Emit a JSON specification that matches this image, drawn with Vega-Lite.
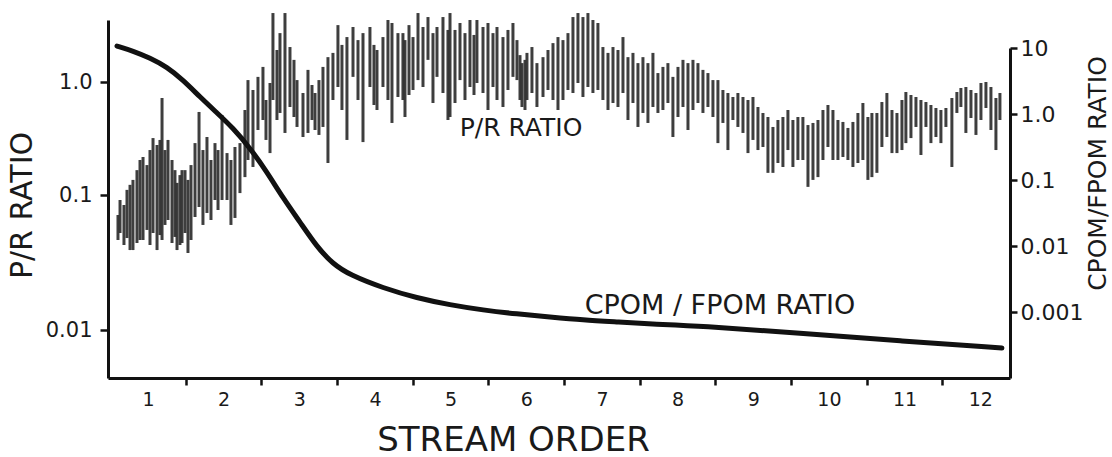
{
  "$schema": "https://vega.github.io/schema/vega-lite/v6.json",
  "width": 902,
  "height": 358,
  "autosize": "none",
  "padding": {"left": 108, "top": 20, "right": 102, "bottom": 79},
  "background": "white",
  "config": {
    "view": {"stroke": null},
    "font": "DejaVu Sans",
    "axis": {
      "grid": false,
      "domainColor": "#111111",
      "domainWidth": 3,
      "tickColor": "#111111",
      "tickWidth": 2.5,
      "labelColor": "#1a1a1a",
      "titleColor": "#1a1a1a",
      "labelFont": "DejaVu Sans",
      "titleFont": "DejaVu Sans",
      "titleFontWeight": "normal"
    }
  },
  "layer": [
    {
      "layer": [
        {
          "data": {
            "values": [
              {"order": 0.604, "hi": 0.0711, "lo": 0.0464},
              {"order": 0.631, "hi": 0.0918, "lo": 0.0523},
              {"order": 0.683, "hi": 0.0843, "lo": 0.0426},
              {"order": 0.723, "hi": 0.111, "lo": 0.048},
              {"order": 0.763, "hi": 0.123, "lo": 0.0391},
              {"order": 0.802, "hi": 0.136, "lo": 0.0391},
              {"order": 0.855, "hi": 0.166, "lo": 0.0441},
              {"order": 0.895, "hi": 0.204, "lo": 0.0464},
              {"order": 0.935, "hi": 0.217, "lo": 0.0464},
              {"order": 0.987, "hi": 0.184, "lo": 0.0551},
              {"order": 1.027, "hi": 0.25, "lo": 0.0426},
              {"order": 1.067, "hi": 0.319, "lo": 0.0523},
              {"order": 1.12, "hi": 0.277, "lo": 0.0391},
              {"order": 1.159, "hi": 0.307, "lo": 0.0505},
              {"order": 1.186, "hi": 0.722, "lo": 0.0464},
              {"order": 1.225, "hi": 0.25, "lo": 0.06},
              {"order": 1.265, "hi": 0.307, "lo": 0.0653},
              {"order": 1.318, "hi": 0.204, "lo": 0.0441},
              {"order": 1.357, "hi": 0.166, "lo": 0.0489},
              {"order": 1.384, "hi": 0.128, "lo": 0.0391},
              {"order": 1.423, "hi": 0.15, "lo": 0.0426},
              {"order": 1.45, "hi": 0.166, "lo": 0.0441},
              {"order": 1.49, "hi": 0.166, "lo": 0.0523},
              {"order": 1.529, "hi": 0.136, "lo": 0.0372},
              {"order": 1.569, "hi": 0.184, "lo": 0.0464},
              {"order": 1.622, "hi": 0.288, "lo": 0.0687},
              {"order": 1.675, "hi": 0.543, "lo": 0.0815},
              {"order": 1.727, "hi": 0.25, "lo": 0.06},
              {"order": 1.78, "hi": 0.326, "lo": 0.0736},
              {"order": 1.833, "hi": 0.204, "lo": 0.0653},
              {"order": 1.886, "hi": 0.288, "lo": 0.0918},
              {"order": 1.926, "hi": 0.25, "lo": 0.0774},
              {"order": 1.979, "hi": 0.511, "lo": 0.0918},
              {"order": 2.045, "hi": 0.235, "lo": 0.0918},
              {"order": 2.097, "hi": 0.204, "lo": 0.06},
              {"order": 2.15, "hi": 0.266, "lo": 0.0676},
              {"order": 2.216, "hi": 0.288, "lo": 0.104},
              {"order": 2.282, "hi": 0.565, "lo": 0.144},
              {"order": 2.322, "hi": 1.04, "lo": 0.204},
              {"order": 2.388, "hi": 0.85, "lo": 0.177},
              {"order": 2.454, "hi": 1.11, "lo": 0.376},
              {"order": 2.52, "hi": 1.36, "lo": 0.461},
              {"order": 2.56, "hi": 0.693, "lo": 0.307},
              {"order": 2.613, "hi": 0.98, "lo": 0.235},
              {"order": 2.652, "hi": 4.08, "lo": 0.693},
              {"order": 2.705, "hi": 1.92, "lo": 0.461},
              {"order": 2.745, "hi": 2.71, "lo": 0.532},
              {"order": 2.811, "hi": 4.08, "lo": 0.354},
              {"order": 2.877, "hi": 2.04, "lo": 0.601},
              {"order": 2.93, "hi": 1.57, "lo": 0.49},
              {"order": 2.97, "hi": 1.04, "lo": 0.4},
              {"order": 3.049, "hi": 0.799, "lo": 0.326},
              {"order": 3.115, "hi": 1.28, "lo": 0.354},
              {"order": 3.168, "hi": 0.941, "lo": 0.461},
              {"order": 3.208, "hi": 0.799, "lo": 0.376},
              {"order": 3.26, "hi": 1.04, "lo": 0.34},
              {"order": 3.313, "hi": 1.36, "lo": 0.4},
              {"order": 3.379, "hi": 1.66, "lo": 0.192},
              {"order": 3.445, "hi": 1.81, "lo": 0.693},
              {"order": 3.511, "hi": 3.19, "lo": 0.903},
              {"order": 3.564, "hi": 2.13, "lo": 0.565},
              {"order": 3.63, "hi": 2.5, "lo": 0.307},
              {"order": 3.71, "hi": 3.07, "lo": 1.11},
              {"order": 3.776, "hi": 2.35, "lo": 0.693},
              {"order": 3.842, "hi": 2.71, "lo": 0.294},
              {"order": 3.934, "hi": 3.07, "lo": 0.903},
              {"order": 3.987, "hi": 2.13, "lo": 0.626},
              {"order": 4.027, "hi": 1.92, "lo": 0.565},
              {"order": 4.106, "hi": 2.5, "lo": 0.903},
              {"order": 4.172, "hi": 3.54, "lo": 0.693},
              {"order": 4.225, "hi": 3.33, "lo": 0.434},
              {"order": 4.304, "hi": 2.71, "lo": 0.737},
              {"order": 4.37, "hi": 2.71, "lo": 0.693},
              {"order": 4.397, "hi": 2.35, "lo": 0.49},
              {"order": 4.45, "hi": 3.19, "lo": 0.767},
              {"order": 4.503, "hi": 2.5, "lo": 0.85},
              {"order": 4.569, "hi": 4.08, "lo": 1.04},
              {"order": 4.635, "hi": 3.07, "lo": 0.903},
              {"order": 4.701, "hi": 3.76, "lo": 1.57},
              {"order": 4.767, "hi": 2.71, "lo": 0.652},
              {"order": 4.82, "hi": 3.07, "lo": 1.11},
              {"order": 4.899, "hi": 3.76, "lo": 0.799},
              {"order": 4.965, "hi": 2.89, "lo": 0.461},
              {"order": 4.992, "hi": 4.08, "lo": 0.49},
              {"order": 5.058, "hi": 2.89, "lo": 0.652},
              {"order": 5.124, "hi": 3.33, "lo": 1.04},
              {"order": 5.19, "hi": 2.71, "lo": 0.693},
              {"order": 5.256, "hi": 3.54, "lo": 0.903},
              {"order": 5.309, "hi": 2.61, "lo": 0.767},
              {"order": 5.348, "hi": 3.54, "lo": 0.98},
              {"order": 5.428, "hi": 3.07, "lo": 0.799},
              {"order": 5.494, "hi": 3.33, "lo": 0.565},
              {"order": 5.56, "hi": 2.71, "lo": 0.903},
              {"order": 5.613, "hi": 3.07, "lo": 0.693},
              {"order": 5.692, "hi": 2.5, "lo": 0.601},
              {"order": 5.758, "hi": 2.89, "lo": 0.85},
              {"order": 5.824, "hi": 3.33, "lo": 1.11},
              {"order": 5.877, "hi": 2.35, "lo": 1.04},
              {"order": 5.917, "hi": 1.73, "lo": 0.693},
              {"order": 5.943, "hi": 1.47, "lo": 0.601},
              {"order": 5.983, "hi": 1.57, "lo": 0.565},
              {"order": 6.009, "hi": 1.81, "lo": 0.693},
              {"order": 6.075, "hi": 2.04, "lo": 0.799},
              {"order": 6.141, "hi": 1.47, "lo": 0.601},
              {"order": 6.221, "hi": 1.66, "lo": 0.737},
              {"order": 6.287, "hi": 1.92, "lo": 0.85},
              {"order": 6.353, "hi": 2.21, "lo": 0.693},
              {"order": 6.419, "hi": 2.5, "lo": 0.565},
              {"order": 6.485, "hi": 2.35, "lo": 0.693},
              {"order": 6.551, "hi": 2.71, "lo": 0.85},
              {"order": 6.617, "hi": 3.76, "lo": 0.799},
              {"order": 6.683, "hi": 4.08, "lo": 0.98},
              {"order": 6.749, "hi": 3.76, "lo": 0.737},
              {"order": 6.815, "hi": 4.08, "lo": 0.903},
              {"order": 6.881, "hi": 3.54, "lo": 0.799},
              {"order": 6.947, "hi": 3.33, "lo": 0.85},
              {"order": 7.013, "hi": 2.04, "lo": 0.693},
              {"order": 7.08, "hi": 1.81, "lo": 0.565},
              {"order": 7.146, "hi": 2.04, "lo": 0.652},
              {"order": 7.212, "hi": 1.92, "lo": 0.601},
              {"order": 7.278, "hi": 2.5, "lo": 0.799},
              {"order": 7.344, "hi": 1.66, "lo": 0.461},
              {"order": 7.41, "hi": 1.81, "lo": 0.652},
              {"order": 7.476, "hi": 1.47, "lo": 0.4},
              {"order": 7.542, "hi": 1.66, "lo": 0.532},
              {"order": 7.608, "hi": 1.47, "lo": 0.434},
              {"order": 7.674, "hi": 1.81, "lo": 0.601},
              {"order": 7.74, "hi": 1.2, "lo": 0.532},
              {"order": 7.806, "hi": 1.36, "lo": 0.565},
              {"order": 7.872, "hi": 1.47, "lo": 0.652},
              {"order": 7.938, "hi": 1.11, "lo": 0.326},
              {"order": 8.005, "hi": 1.36, "lo": 0.49},
              {"order": 8.071, "hi": 1.57, "lo": 0.601},
              {"order": 8.137, "hi": 1.47, "lo": 0.376},
              {"order": 8.203, "hi": 1.57, "lo": 0.565},
              {"order": 8.269, "hi": 1.47, "lo": 0.652},
              {"order": 8.335, "hi": 1.28, "lo": 0.532},
              {"order": 8.401, "hi": 1.2, "lo": 0.601},
              {"order": 8.467, "hi": 1.04, "lo": 0.49},
              {"order": 8.533, "hi": 1.04, "lo": 0.288},
              {"order": 8.599, "hi": 0.85, "lo": 0.434},
              {"order": 8.665, "hi": 0.799, "lo": 0.25},
              {"order": 8.731, "hi": 0.737, "lo": 0.461},
              {"order": 8.797, "hi": 0.799, "lo": 0.4},
              {"order": 8.864, "hi": 0.737, "lo": 0.354},
              {"order": 8.93, "hi": 0.693, "lo": 0.235},
              {"order": 8.996, "hi": 0.737, "lo": 0.307},
              {"order": 9.062, "hi": 0.601, "lo": 0.25},
              {"order": 9.128, "hi": 0.532, "lo": 0.266},
              {"order": 9.194, "hi": 0.49, "lo": 0.157},
              {"order": 9.26, "hi": 0.4, "lo": 0.157},
              {"order": 9.326, "hi": 0.461, "lo": 0.192},
              {"order": 9.392, "hi": 0.49, "lo": 0.177},
              {"order": 9.458, "hi": 0.565, "lo": 0.25},
              {"order": 9.524, "hi": 0.461, "lo": 0.177},
              {"order": 9.59, "hi": 0.49, "lo": 0.204},
              {"order": 9.656, "hi": 0.49, "lo": 0.204},
              {"order": 9.723, "hi": 0.416, "lo": 0.118},
              {"order": 9.789, "hi": 0.434, "lo": 0.136},
              {"order": 9.855, "hi": 0.461, "lo": 0.144},
              {"order": 9.921, "hi": 0.565, "lo": 0.204},
              {"order": 9.987, "hi": 0.626, "lo": 0.266},
              {"order": 10.053, "hi": 0.565, "lo": 0.204},
              {"order": 10.119, "hi": 0.461, "lo": 0.204},
              {"order": 10.185, "hi": 0.443, "lo": 0.217},
              {"order": 10.251, "hi": 0.392, "lo": 0.204},
              {"order": 10.317, "hi": 0.443, "lo": 0.177},
              {"order": 10.383, "hi": 0.532, "lo": 0.192},
              {"order": 10.449, "hi": 0.652, "lo": 0.204},
              {"order": 10.515, "hi": 0.49, "lo": 0.136},
              {"order": 10.568, "hi": 0.532, "lo": 0.144},
              {"order": 10.634, "hi": 0.532, "lo": 0.157},
              {"order": 10.7, "hi": 0.665, "lo": 0.266},
              {"order": 10.766, "hi": 0.799, "lo": 0.326},
              {"order": 10.833, "hi": 0.565, "lo": 0.235},
              {"order": 10.899, "hi": 0.532, "lo": 0.235},
              {"order": 10.965, "hi": 0.693, "lo": 0.25},
              {"order": 11.017, "hi": 0.816, "lo": 0.288},
              {"order": 11.084, "hi": 0.767, "lo": 0.319},
              {"order": 11.15, "hi": 0.737, "lo": 0.4},
              {"order": 11.216, "hi": 0.693, "lo": 0.226},
              {"order": 11.282, "hi": 0.665, "lo": 0.4},
              {"order": 11.348, "hi": 0.626, "lo": 0.288},
              {"order": 11.414, "hi": 0.589, "lo": 0.326},
              {"order": 11.48, "hi": 0.565, "lo": 0.288},
              {"order": 11.546, "hi": 0.589, "lo": 0.4},
              {"order": 11.625, "hi": 0.722, "lo": 0.177},
              {"order": 11.691, "hi": 0.816, "lo": 0.532},
              {"order": 11.744, "hi": 0.885, "lo": 0.601},
              {"order": 11.81, "hi": 0.903, "lo": 0.354},
              {"order": 11.877, "hi": 0.85, "lo": 0.48},
              {"order": 11.943, "hi": 0.799, "lo": 0.34},
              {"order": 12.009, "hi": 0.98, "lo": 0.461},
              {"order": 12.075, "hi": 1.0, "lo": 0.589},
              {"order": 12.141, "hi": 0.903, "lo": 0.376},
              {"order": 12.207, "hi": 0.722, "lo": 0.25},
              {"order": 12.26, "hi": 0.799, "lo": 0.461}
            ]
          },
          "mark": {"type": "rule", "strokeWidth": 3, "color": "#2e2e2e", "opacity": 0.92},
          "encoding": {
            "x": {
              "field": "order",
              "type": "quantitative",
              "scale": {"domain": [0.472, 12.393], "nice": false, "zero": false},
              "axis": {
                "values": [1, 1.5, 2, 2.5, 3, 3.5, 4, 4.5, 5, 5.5, 6, 6.5, 7, 7.5, 8, 8.5, 9, 9.5, 10, 10.5, 11, 11.5, 12],
                "labelExpr": "datum.value % 1 === 0 ? format(datum.value, 'd') : ''",
                "labelOverlap": false,
                "labelFlush": false,
                "labelBound": false,
                "labelFontSize": 19,
                "labelPadding": 5,
                "tickSize": 7,
                "tickOpacity": {"condition": {"test": "datum.value % 1 === 0", "value": 0}, "value": 1},
                "title": "STREAM ORDER",
                "titleFontSize": 34,
                "titleX": 405,
                "titleY": 62,
                "titleAlign": "center",
                "titleBaseline": "middle"
              }
            },
            "y": {
              "field": "hi",
              "type": "quantitative",
              "scale": {"type": "log", "domain": [0.00441, 0.01, 0.1, 1, 3.54], "range": [358, 310, 175, 62, 0], "nice": false},
              "axis": {
                "orient": "left",
                "values": [0.01, 0.1, 1],
                "labelExpr": "datum.value >= 1 ? '1.0' : (datum.value >= 0.1 ? '0.1' : '0.01')",
                "labelFontSize": 21,
                "labelPadding": 8,
                "tickSize": 8,
                "title": "P/R RATIO",
                "titleFontSize": 30,
                "titleAngle": 270,
                "titleX": -86,
                "titleY": 185,
                "titleAlign": "center",
                "titleBaseline": "middle"
              }
            },
            "y2": {"field": "lo"}
          }
        },
        {
          "data": {"values": [{"order": 5.93, "hi": 0.392, "label": "P/R RATIO"}]},
          "mark": {"type": "text", "fontSize": 25, "color": "#1a1a1a"},
          "encoding": {
            "x": {"field": "order", "type": "quantitative"},
            "y": {"field": "hi", "type": "quantitative"},
            "text": {"field": "label"}
          }
        }
      ]
    },
    {
      "layer": [
        {
          "data": {
            "values": [
              {"order": 0.591, "ratio": 10.7},
              {"order": 0.802, "ratio": 9.01},
              {"order": 1.027, "ratio": 7.06},
              {"order": 1.252, "ratio": 5.15},
              {"order": 1.463, "ratio": 3.27},
              {"order": 1.688, "ratio": 1.81},
              {"order": 1.912, "ratio": 1.04},
              {"order": 2.124, "ratio": 0.614},
              {"order": 2.349, "ratio": 0.305},
              {"order": 2.573, "ratio": 0.132},
              {"order": 2.785, "ratio": 0.0534},
              {"order": 3.009, "ratio": 0.0231},
              {"order": 3.234, "ratio": 0.00966},
              {"order": 3.445, "ratio": 0.00534},
              {"order": 3.67, "ratio": 0.00364},
              {"order": 4.106, "ratio": 0.00231},
              {"order": 4.555, "ratio": 0.00163},
              {"order": 4.992, "ratio": 0.00128},
              {"order": 5.428, "ratio": 0.00107},
              {"order": 5.877, "ratio": 0.000933},
              {"order": 6.313, "ratio": 0.00084},
              {"order": 6.749, "ratio": 0.000757},
              {"order": 7.198, "ratio": 0.000706},
              {"order": 7.634, "ratio": 0.000658},
              {"order": 8.295, "ratio": 0.000614},
              {"order": 9.617, "ratio": 0.000481},
              {"order": 10.938, "ratio": 0.000364},
              {"order": 12.286, "ratio": 0.000285}
            ]
          },
          "mark": {"type": "line", "strokeWidth": 5, "color": "#111111", "interpolate": "basis", "strokeCap": "round"},
          "encoding": {
            "x": {"field": "order", "type": "quantitative"},
            "y": {
              "field": "ratio",
              "type": "quantitative",
              "scale": {"type": "log", "domain": [0.0001, 10], "range": [358, 28], "nice": false},
              "axis": {
                "orient": "right",
                "values": [0.001, 0.01, 0.1, 1, 10],
                "labelExpr": "datum.value >= 10 ? '10' : (datum.value >= 1 ? '1.0' : (datum.value >= 0.1 ? '0.1' : (datum.value >= 0.01 ? '0.01' : '0.001')))",
                "labelFontSize": 22,
                "labelPadding": 3,
                "tickSize": 7,
                "title": "CPOM/FPOM RATIO",
                "titleFontSize": 25,
                "titleAngle": 270,
                "titleX": 87,
                "titleY": 153,
                "titleAlign": "center",
                "titleBaseline": "middle"
              }
            }
          }
        },
        {
          "data": {"values": [{"order": 8.56, "ratio": 0.00125, "label": "CPOM / FPOM RATIO"}]},
          "mark": {"type": "text", "fontSize": 27, "color": "#1a1a1a"},
          "encoding": {
            "x": {"field": "order", "type": "quantitative"},
            "y": {"field": "ratio", "type": "quantitative"},
            "text": {"field": "label"}
          }
        }
      ]
    }
  ],
  "resolve": {"scale": {"y": "independent"}}
}
